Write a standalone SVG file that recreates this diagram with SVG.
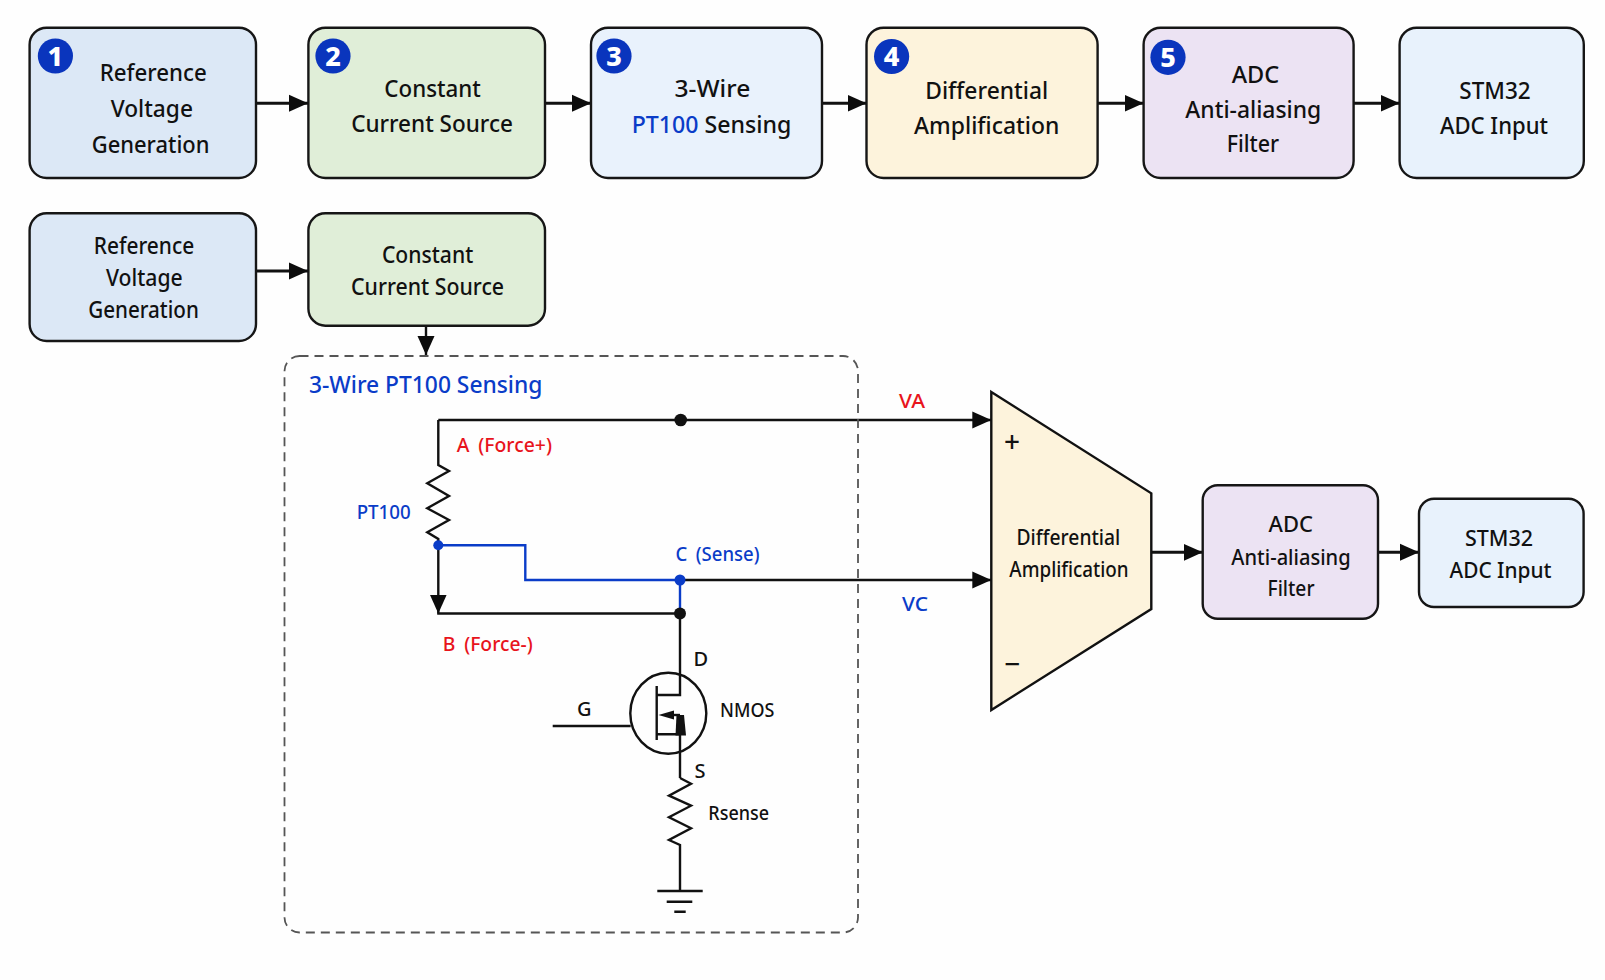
<svg xmlns="http://www.w3.org/2000/svg" width="1605" height="980" viewBox="0 0 1605 980">
<style>
text{font-family:"Noto Sans","Open Sans","Liberation Sans",sans-serif;fill:#111;text-anchor:middle;font-weight:500}
.box{stroke:#161616;stroke-width:2.4}
.t1{font-size:24px}.t2{font-size:23px}.t3{font-size:22px}.s{font-size:20px}
.gap{word-spacing:4px}
text.red{fill:#e8141c}text.blue,tspan.blue{fill:#0a3cc8}
.badge{fill:#0a35bd}
text.num{font-size:27px;font-weight:800;fill:#fff}
.w{fill:none;stroke:#111;stroke-width:2.4}
.a{fill:none;stroke:#111;stroke-width:3;marker-end:url(#ah)}
.a2{fill:none;stroke:#111;stroke-width:2.4;marker-end:url(#ah)}
.bl{fill:none;stroke:#0a3cc8;stroke-width:2.4}
</style>
<defs>
<marker id="ah" markerUnits="userSpaceOnUse" markerWidth="20" markerHeight="18" refX="19" refY="9" orient="auto"><path d="M0 0.5L19 9L0 17.5Z" fill="#0c0c0c"/></marker>
</defs>
<rect width="1605" height="980" fill="#fefefe"/>
<g id="connectors">
<path class="a" d="M256 103.3H308"/>
<path class="a" d="M545 103.3H591"/>
<path class="a" d="M822 103.3H866.5"/>
<path class="a" d="M1097.5 103.3H1143.5"/>
<path class="a" d="M1353.6 103.3H1399.6"/>
<path class="a" d="M256 271H308"/>
<path class="a2" d="M426 325.7V355"/>
<path class="a2" d="M438.3 420H680.7H991.3"/>
<path class="w" d="M438.3 420V465L449 471L427.3 483.3L449 496L427.3 508.3L449 520L427.3 532.3L438.3 539V545.3"/>
<path class="a2" d="M438.3 545.3V613.5"/>
<path class="w" d="M437.2 613.5H680"/>
<path class="bl" d="M438.3 545.3H525.3V580H680V613.5"/>
<path class="a2" d="M680 580H991.3"/>
<path class="a" d="M1151.3 552.3H1202.7"/>
<path class="a" d="M1378 552.3H1419"/>
<circle cx="680.7" cy="420" r="6.3" fill="#111"/>
<circle cx="438.3" cy="545.3" r="5" fill="#0a3cc8"/>
<circle cx="680" cy="580" r="5.5" fill="#0a3cc8"/>
<circle cx="680" cy="613.5" r="6" fill="#111"/>
</g>
<g id="n1"><rect class="box" x="29.6" y="27.7" width="226.4" height="150.3" rx="17" fill="#dce8f6"/>
<circle class="badge" cx="55.4" cy="56" r="17.6"/><text class="num" x="55.4" y="65.5">1</text>
<text class="t1" x="153.2" y="81.3" textLength="107" lengthAdjust="spacingAndGlyphs">Reference</text><text class="t1" x="151.8" y="117" textLength="82.3" lengthAdjust="spacingAndGlyphs">Voltage</text><text class="t1" x="150.6" y="153" textLength="117.8" lengthAdjust="spacingAndGlyphs">Generation</text></g>
<g id="n2"><rect class="box" x="308.4" y="27.7" width="236.6" height="150.3" rx="17" fill="#e0eed8"/>
<circle class="badge" cx="333" cy="56" r="17.6"/><text class="num" x="333" y="65.5">2</text>
<text class="t1" x="432.6" y="96.7" textLength="96.5" lengthAdjust="spacingAndGlyphs">Constant</text><text class="t1" x="432" y="132.3" textLength="161.7" lengthAdjust="spacingAndGlyphs">Current Source</text></g>
<g id="n3"><rect class="box" x="591" y="27.7" width="231" height="150.3" rx="17" fill="#e9f2fc"/>
<circle class="badge" cx="614" cy="56" r="17.6"/><text class="num" x="614" y="65.5">3</text>
<text class="t1" x="712.4" y="96.5" textLength="75.7" lengthAdjust="spacingAndGlyphs">3-Wire</text><text class="t1" x="711.5" y="132.5" textLength="159.7" lengthAdjust="spacingAndGlyphs"><tspan class="blue">PT100</tspan> Sensing</text></g>
<g id="n4"><rect class="box" x="866.5" y="27.7" width="231.1" height="150.3" rx="17" fill="#fdf3dc"/>
<circle class="badge" cx="891.6" cy="56.5" r="17.6"/><text class="num" x="891.6" y="66">4</text>
<text class="t1" x="986.7" y="98.5" textLength="122.8" lengthAdjust="spacingAndGlyphs">Differential</text><text class="t1" x="986.7" y="133.5" textLength="145.3" lengthAdjust="spacingAndGlyphs">Amplification</text></g>
<g id="n5"><rect class="box" x="1143.6" y="27.7" width="210" height="150.3" rx="17" fill="#ece3f3"/>
<circle class="badge" cx="1168" cy="57.3" r="17.6"/><text class="num" x="1168" y="66.8">5</text>
<text class="t1" x="1255.4" y="83" textLength="47.5" lengthAdjust="spacingAndGlyphs">ADC</text><text class="t1" x="1253.3" y="118.3" textLength="136" lengthAdjust="spacingAndGlyphs">Anti-aliasing</text><text class="t1" x="1252.9" y="152.3" textLength="52.5" lengthAdjust="spacingAndGlyphs">Filter</text></g>
<g id="n6"><rect class="box" x="1399.6" y="27.7" width="184.2" height="150.3" rx="17" fill="#e8f2fc"/>
<text class="t1" x="1495" y="98.7" textLength="71.4" lengthAdjust="spacingAndGlyphs">STM32</text><text class="t1" x="1494" y="133.7" textLength="108" lengthAdjust="spacingAndGlyphs">ADC Input</text></g>
<g id="n7"><rect class="box" x="29.6" y="213.3" width="226.4" height="127.7" rx="17" fill="#dce8f6"/>
<text class="t2" x="144" y="254" textLength="100.4" lengthAdjust="spacingAndGlyphs">Reference</text><text class="t2" x="144.3" y="285.7" textLength="76.7" lengthAdjust="spacingAndGlyphs">Voltage</text><text class="t2" x="143.5" y="318.3" textLength="110.7" lengthAdjust="spacingAndGlyphs">Generation</text></g>
<g id="n8"><rect class="box" x="308.4" y="213.3" width="236.6" height="112.4" rx="17" fill="#e0eed8"/>
<text class="t2" x="427.6" y="263.3" textLength="91.3" lengthAdjust="spacingAndGlyphs">Constant</text><text class="t2" x="427.6" y="295.3" textLength="153" lengthAdjust="spacingAndGlyphs">Current Source</text></g>
<g id="sensing-frame"><rect x="284.5" y="356" width="573.5" height="576.5" rx="15" fill="none" stroke="#555" stroke-width="1.8" stroke-dasharray="9 6"/>
<text class="blue" x="425.7" y="393" font-size="24" textLength="233.5" lengthAdjust="spacingAndGlyphs">3-Wire PT100 Sensing</text></g>
<g id="labels">
<text class="red s" x="912" y="408" textLength="26" lengthAdjust="spacingAndGlyphs">VA</text>
<text class="blue s" x="915" y="610.5" textLength="26" lengthAdjust="spacingAndGlyphs">VC</text>
<text class="red s gap" x="504.3" y="451.7" textLength="95.3" lengthAdjust="spacingAndGlyphs">A (Force+)</text>
<text class="blue s" x="383.7" y="519.3" textLength="54" lengthAdjust="spacingAndGlyphs">PT100</text>
<text class="blue s gap" x="717.5" y="561" textLength="84" lengthAdjust="spacingAndGlyphs">C (Sense)</text>
<text class="red s gap" x="487.7" y="650.7" textLength="90" lengthAdjust="spacingAndGlyphs">B (Force-)</text>
</g>
<g id="nmos">
<path class="w" d="M680 613.5V695H656.7M656.7 686V740M552.7 726H630.7M656.7 734.3H680V778"/>
<ellipse cx="668.3" cy="713.3" rx="38" ry="40.5" fill="none" stroke="#111" stroke-width="2.4"/>
<path fill="#111" d="M658.5 715L674 710.5V719.5Z"/>
<path class="w" d="M672 715H680"/>
<path fill="#111" d="M676.5 715H684L686 735.5H675.5Z"/>
<text class="s" x="700.8" y="666">D</text>
<text class="s" x="584.3" y="715.7">G</text>
<text class="s" x="747.2" y="717.3" textLength="54.3" lengthAdjust="spacingAndGlyphs">NMOS</text>
<text class="s" x="700" y="777.7">S</text>
</g>
<g id="rsense">
<path class="w" d="M680 778L691 783.7L669 795.7L691 805.7L669 817.3L691 828.3L669 840L680 845V891"/>
<path class="w" d="M657.3 891H702.7M666.7 901.7H692.3M674.3 911.7H685.7"/>
<text class="s" x="738.7" y="820" textLength="60.7" lengthAdjust="spacingAndGlyphs">Rsense</text>
</g>
<g id="amp"><path d="M991.3 392L1151.3 493.3V609L991.3 710Z" fill="#fdf3dc" stroke="#111" stroke-width="2.4"/>
<text x="1012" y="452" font-size="28">+</text><text x="1012" y="674" font-size="28">−</text>
<text class="t3" x="1068.4" y="545" textLength="103.7" lengthAdjust="spacingAndGlyphs">Differential</text><text class="t3" x="1069" y="577" textLength="119.3" lengthAdjust="spacingAndGlyphs">Amplification</text></g>
<g id="n9"><rect class="box" x="1202.7" y="485.3" width="175.3" height="133.4" rx="15" fill="#ece3f3"/>
<text class="t3" x="1290.7" y="532.3" textLength="44.4" lengthAdjust="spacingAndGlyphs">ADC</text><text class="t3" x="1291" y="564.5" textLength="119.3" lengthAdjust="spacingAndGlyphs">Anti-aliasing</text><text class="t3" x="1291" y="596" textLength="47" lengthAdjust="spacingAndGlyphs">Filter</text></g>
<g id="n10"><rect class="box" x="1419" y="498.7" width="164.6" height="108.3" rx="15" fill="#e8f2fc"/>
<text class="t3" x="1499" y="545.7" textLength="68" lengthAdjust="spacingAndGlyphs">STM32</text><text class="t3" x="1500.5" y="578" textLength="102" lengthAdjust="spacingAndGlyphs">ADC Input</text></g>
</svg>
